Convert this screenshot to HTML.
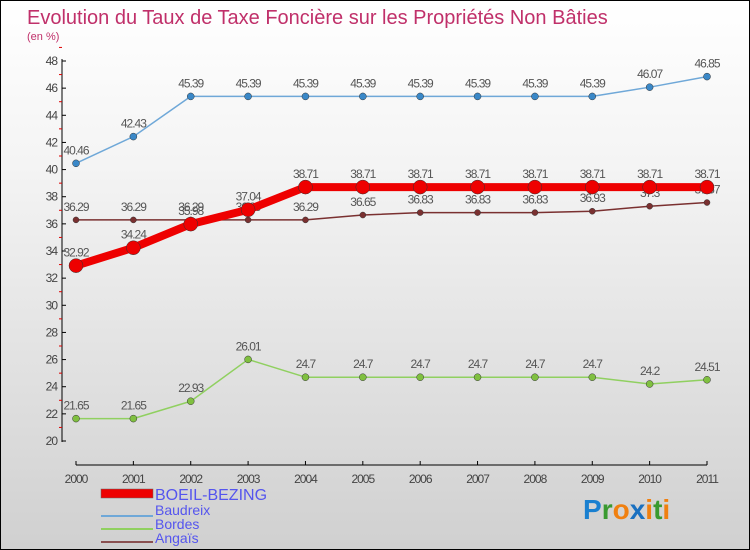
<!DOCTYPE html>
<html><head><meta charset="utf-8"><style>
body{margin:0}
#c{width:748px;height:548px;border:1px solid #000;background:linear-gradient(#fff,#f4f4f4 30%,#d0d0d0);position:relative;font-family:"Liberation Sans",sans-serif;overflow:hidden}
</style></head><body>
<div id="c">
<svg id="s" width="748" height="548" xmlns="http://www.w3.org/2000/svg">
<text x="26" y="23" font-size="20" fill="#c0306a">Evolution du Taux de Taxe Foncière sur les Propriétés Non Bâties</text>
<text x="26" y="39" font-size="11" fill="#c0306a">(en %)</text>
<g id="axes"></g><g id="series"></g>
<g>
<rect x="100" y="488" width="52" height="9" fill="#e00" stroke="#666" stroke-width="0.5"/>
<text x="154" y="499" font-size="16" fill="#5555ee">BOEIL-BEZING</text>
<line x1="100" y1="515" x2="152" y2="515" stroke="#6fa8d8" stroke-width="2"/>
<text x="154" y="514" font-size="14" fill="#5555ee">Baudreix</text>
<line x1="100" y1="528" x2="152" y2="528" stroke="#90d060" stroke-width="2"/>
<text x="154" y="528" font-size="14" fill="#5555ee">Bordes</text>
<line x1="100" y1="541" x2="152" y2="541" stroke="#8a5050" stroke-width="2"/>
<text x="154" y="542" font-size="14" fill="#5555ee">Angaïs</text>
</g>
<text x="582" y="518" font-size="28" font-weight="bold"><tspan fill="#1a80d0">P</tspan><tspan fill="#3a9a30">r</tspan><tspan fill="#f08010">o</tspan><tspan fill="#1a70c0">x</tspan><tspan fill="#f08010">i</tspan><tspan fill="#3a9a30">t</tspan><tspan fill="#f08010">i</tspan></text>
</svg></div>
<script>
const years=["2000","2001","2002","2003","2004","2005","2006","2007","2008","2009","2010","2011"];
const boeil=[32.92,34.24,35.98,37.04,38.71,38.71,38.71,38.71,38.71,38.71,38.71,38.71];
const baudreix=[40.46,42.43,45.39,45.39,45.39,45.39,45.39,45.39,45.39,45.39,46.07,46.85];
const bordes=[21.65,21.65,22.93,26.01,24.7,24.7,24.7,24.7,24.7,24.7,24.2,24.51];
const angais=[36.29,36.29,36.29,36.29,36.29,36.65,36.83,36.83,36.83,36.93,37.3,37.57];
const yTicks=[20,22,24,26,28,30,32,34,36,38,40,42,44,46,48];
const NS="http://www.w3.org/2000/svg";
const X=i=>75+i*(706-75)/(years.length-1);
const Y=v=>440-(v-20)*(380/28);
function mk(t,a,p){const e=document.createElementNS(NS,t);for(const k in a)e.setAttribute(k,a[k]);p.appendChild(e);return e;}
const ax=document.getElementById('axes');
let l=mk('line',{x1:61,y1:58,x2:61,y2:441,stroke:'#000'},ax);


l=mk('line',{x1:75,y1:464,x2:706,y2:464,stroke:'#000'},ax);


yTicks.forEach(v=>{mk('line',{x1:61,y1:Y(v),x2:65,y2:Y(v),stroke:'#000'},ax);
mk('line',{x1:58,y1:Y(v+1),x2:61,y2:Y(v+1),stroke:'#d00'},ax);
const t=mk('text',{x:56,y:Y(v)+4,'font-size':12,fill:'#444','text-anchor':'end','letter-spacing':'-1'},ax);t.textContent=v;

});
years.forEach((y,i)=>{mk('line',{x1:X(i),y1:460,x2:X(i),y2:464,stroke:'#000'},ax);
const t=mk('text',{x:X(i),y:482,'font-size':12,fill:'#444','text-anchor':'middle','letter-spacing':'-1'},ax);t.textContent=y;

});
const sg=document.getElementById('series');
function draw(name,vals,col,dot,w,r){const g=mk('g',{},sg);


mk('polyline',{points:vals.map((v,i)=>X(i)+','+Y(v)).join(' '),fill:'none',stroke:col,'stroke-width':w,'stroke-linejoin':'round'},g);
vals.forEach((v,i)=>{const c=mk('circle',{cx:X(i),cy:Y(v),r:r,fill:dot,stroke:'#333','stroke-width':0.5},g);


const t=mk('text',{x:X(i),y:Y(v)-9,'font-size':12,fill:'#555','text-anchor':'middle','letter-spacing':'-1'},g);t.textContent=v;});}
draw('angais',angais,'#7a3030','#7a3030',1.5,3);
draw('bordes',bordes,'#90d060','#80c040',1.5,3.5);
draw('baudreix',baudreix,'#6fa8d8','#3a88c8',1.5,3.5);
draw('boeil',boeil,'#ee0000','#ee0000',8,7);
</script>
</body></html>
